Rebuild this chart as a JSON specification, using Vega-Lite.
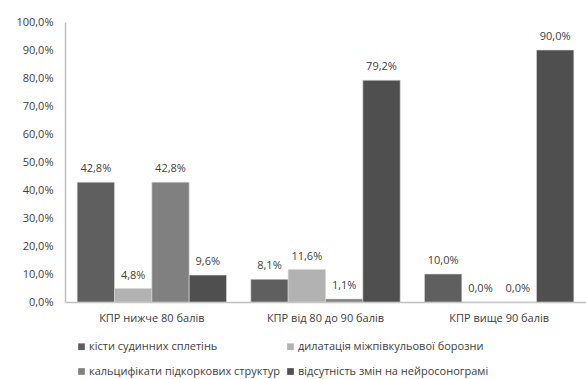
{
  "$schema": "https://vega.github.io/schema/vega-lite/v6.json",
  "width": 521,
  "height": 280,
  "autosize": "none",
  "padding": {"left": 65, "top": 22, "right": 0, "bottom": 77},
  "background": "white",
  "config": {
    "locale": {"number": {"decimal": ",", "thousands": " ", "grouping": [3], "currency": ["", ""]}},
    "view": {"stroke": null},
    "font": "Open Sans",
    "text": {"font": "Open Sans"}
  },
  "data": {
    "values": [
      {"group": "КПР нижче 80 балів", "series": "кісти судинних сплетінь", "value": 0.428},
      {"group": "КПР нижче 80 балів", "series": "дилатація міжпівкульової борозни", "value": 0.048},
      {"group": "КПР нижче 80 балів", "series": "кальцифікати  підкоркових структур", "value": 0.428},
      {"group": "КПР нижче 80 балів", "series": "відсутність змін на нейросонограмі", "value": 0.096},
      {"group": "КПР від 80 до 90 балів", "series": "кісти судинних сплетінь", "value": 0.081},
      {"group": "КПР від 80 до 90 балів", "series": "дилатація міжпівкульової борозни", "value": 0.116},
      {"group": "КПР від 80 до 90 балів", "series": "кальцифікати  підкоркових структур", "value": 0.011},
      {"group": "КПР від 80 до 90 балів", "series": "відсутність змін на нейросонограмі", "value": 0.792},
      {"group": "КПР вище 90 балів", "series": "кісти судинних сплетінь", "value": 0.1},
      {"group": "КПР вище 90 балів", "series": "дилатація міжпівкульової борозни", "value": 0.0},
      {"group": "КПР вище 90 балів", "series": "кальцифікати  підкоркових структур", "value": 0.0},
      {"group": "КПР вище 90 балів", "series": "відсутність змін на нейросонограмі", "value": 0.9}
    ]
  },
  "encoding": {
    "x": {
      "field": "group", "type": "nominal",
      "sort": ["КПР нижче 80 балів", "КПР від 80 до 90 балів", "КПР вище 90 балів"],
      "scale": {"paddingInner": 0.14, "paddingOuter": 0.07},
      "axis": {"title": null, "labelAngle": 0, "ticks": false, "domainColor": "#bfbfbf", "domainWidth": 1.5, "labelFontSize": 11, "labelColor": "#404040", "labelPadding": 10, "labelFont": "Open Sans"}
    },
    "xOffset": {
      "field": "series", "type": "nominal",
      "sort": ["кісти судинних сплетінь", "дилатація міжпівкульової борозни", "кальцифікати  підкоркових структур", "відсутність змін на нейросонограмі"],
      "scale": {"paddingInner": 0, "paddingOuter": 0}
    },
    "y": {
      "field": "value", "type": "quantitative",
      "scale": {"domain": [0, 1], "nice": false},
      "axis": {"title": null, "format": ".1%", "values": [0, 0.1, 0.2, 0.3, 0.4, 0.5, 0.6, 0.7, 0.8, 0.9, 1.0], "labelOverlap": false, "ticks": false, "grid": false, "domainColor": "#bfbfbf", "domainWidth": 1.5, "labelFontSize": 11, "labelColor": "#404040", "labelPadding": 12, "labelFont": "Open Sans"}
    }
  },
  "layer": [
    {
      "mark": {"type": "bar", "stroke": "#d9d9d9", "strokeWidth": 0.6},
      "encoding": {
        "color": {
          "field": "series", "type": "nominal",
          "sort": ["кісти судинних сплетінь", "дилатація міжпівкульової борозни", "кальцифікати  підкоркових структур", "відсутність змін на нейросонограмі"],
          "scale": {"range": ["#5f5f5f", "#b2b2b2", "#808080", "#4f4f4f"]},
          "legend": {
            "title": null, "orient": "none", "legendX": 11, "legendY": 319,
            "columns": 2, "direction": "horizontal", "symbolType": "square", "symbolSize": 45,
            "symbolStrokeWidth": 0, "labelFontSize": 11, "labelColor": "#404040", "labelFont": "Open Sans",
            "labelLimit": 400, "rowPadding": 13, "columnPadding": 2, "labelOffset": 2
          }
        }
      }
    },
    {
      "mark": {"type": "text", "baseline": "bottom", "dy": -8, "fontSize": 11, "color": "#404040", "font": "Open Sans"},
      "encoding": {
        "text": {"field": "value", "type": "quantitative", "format": ".1%"}
      }
    }
  ]
}
